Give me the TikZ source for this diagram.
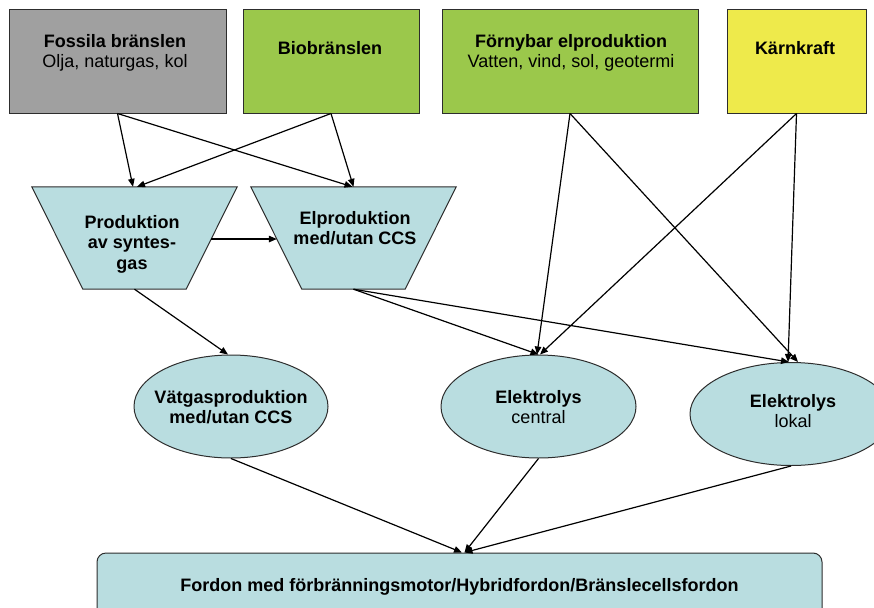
\documentclass[tikz,border=0pt]{standalone}
\usepackage{fontspec}
\setmainfont{Liberation Sans}
\usetikzlibrary{arrows.meta,calc,shapes.geometric}

\definecolor{fossilgray}{RGB}{160,160,160}
\definecolor{biogreen}{RGB}{155,200,75}
\definecolor{nuclearyellow}{RGB}{238,234,75}
\definecolor{procblue}{RGB}{185,221,224}
\definecolor{edgegray}{RGB}{45,45,45}

\begin{document}
\begin{tikzpicture}[x=1pt,y=-1pt,
  srcbox/.style={rectangle,draw=edgegray,line width=1pt,inner sep=0pt},
  procshape/.style={fill=procblue,draw=edgegray,line width=1pt},
  procell/.style={ellipse,fill=procblue,draw=edgegray,line width=1pt,inner sep=0pt},
  boldtxt/.style={anchor=base,inner sep=0pt,font=\fontsize{18}{20.5}\selectfont\bfseries},
  plaintxt/.style={anchor=base,inner sep=0pt,font=\fontsize{18}{20.5}\selectfont},
  conn/.style={-{Triangle[length=8pt,width=6.5pt]},line width=1.2pt,black}]

\path[use as bounding box] (0,0) rectangle (874,607);
\clip (0,0) rectangle (874,607);

% energy sources
\node[srcbox,fill=fossilgray,minimum width=217pt,minimum height=103pt] (fossil) at (117.5,61.5) {};
\node[srcbox,fill=biogreen,minimum width=176pt,minimum height=103pt] (bio) at (331,61.5) {};
\node[srcbox,fill=biogreen,minimum width=256pt,minimum height=103pt] (renew) at (570,61.5) {};
\node[srcbox,fill=nuclearyellow,minimum width=139pt,minimum height=103pt] (nuclear) at (796.5,61.5) {};

\node[boldtxt] (fossilA) at (115,48) {Fossila bränslen};
\node[plaintxt] (fossilB) at (115,68) {Olja, naturgas, kol};
\node[boldtxt] (bioA) at (330,55) {Biobränslen};
\node[boldtxt] (renewA) at (571,48) {Förnybar elproduktion};
\node[plaintxt] (renewB) at (571,68) {Vatten, vind, sol, geotermi};
\node[boldtxt] (nuclearA) at (795,55) {Kärnkraft};

% conversion steps (trapezoids)
\node[minimum width=205pt,minimum height=102pt,inner sep=0pt] (syn) at (134.5,238) {};
\node[minimum width=205pt,minimum height=102pt,inner sep=0pt] (elp) at (353.5,238) {};
\path[procshape] (syn.north west) -- (syn.north east)
  -- ([xshift=-51pt]syn.south east) -- ([xshift=51pt]syn.south west) -- cycle;
\path[procshape] (elp.north west) -- (elp.north east)
  -- ([xshift=-51pt]elp.south east) -- ([xshift=51pt]elp.south west) -- cycle;

\node[boldtxt] (synA) at (132,228) {Produktion};
\node[boldtxt] (synB) at (132,248.5) {av syntes-};
\node[boldtxt] (synC) at (132,269) {gas};
\node[boldtxt] (elpA) at (355,224) {Elproduktion};
\node[boldtxt] (elpB) at (355,244.5) {med/utan CCS};

% hydrogen production
\node[procell,minimum width=194pt,minimum height=103pt] (vat) at (231,406.5) {};
\node[procell,minimum width=195pt,minimum height=103pt] (central) at (538.5,406.5) {};
\node[procell,minimum width=202pt,minimum height=103pt] (lokal) at (791,414) {};

\node[boldtxt] (vatA) at (231,403) {Vätgasproduktion};
\node[boldtxt] (vatB) at (231,423.5) {med/utan CCS};
\node[boldtxt] (centralA) at (538.5,403) {Elektrolys};
\node[plaintxt] (centralB) at (538.5,423.5) {central};
\node[boldtxt] (lokalA) at (793,407) {Elektrolys};
\node[plaintxt] (lokalB) at (793,427.5) {lokal};

% vehicles
\node[rectangle,rounded corners=9pt,fill=procblue,draw=edgegray,line width=1pt,
      minimum width=725pt,minimum height=90pt] (veh) at (459.5,598) {};
\node[boldtxt] (vehA) at (459.5,591) {Fordon med förbränningsmotor/Hybridfordon/Bränslecellsfordon};

% connection points
\coordinate (synR) at ($(syn.north east)!0.51!([xshift=-51pt]syn.south east)$);
\coordinate (elpL) at ($(elp.north west)!0.51!([xshift=51pt]elp.south west)$);

% connectors
\draw[conn] (fossil.south) -- ($(syn.north)+(-1.5,0)$);
\draw[conn] (fossil.south) -- ($(elp.north)+(-1,0)$);
\draw[conn] (bio.south) -- ($(syn.north)+(2.5,0)$);
\draw[conn] (bio.south) -- ($(elp.north)+(0,0)$);
\draw[conn] (synR) -- (elpL);

\draw[conn] (renew.south) -- ($(central.north)+(-1.5,0)$);
\draw[conn] (renew.south) -- ($(lokal.north)+(7,0)$);
\draw[conn] (nuclear.south) -- ($(central.north)+(1.5,0)$);
\draw[conn] (nuclear.south) -- ($(lokal.north)+(-3,0)$);
\draw[conn] (elp.south) -- (central.north);
\draw[conn] (elp.south) -- ($(lokal.north)+(-2,0)$);
\draw[conn] (syn.south) -- ($(vat.north)+(-3,0)$);

\draw[conn] (vat.south) -- ($(veh.north)+(2.5,0)$);
\draw[conn] (central.south) -- ($(veh.north)+(5,0)$);
\draw[conn] (lokal.south) -- ($(veh.north)+(5,0)$);
\end{tikzpicture}
\end{document}
